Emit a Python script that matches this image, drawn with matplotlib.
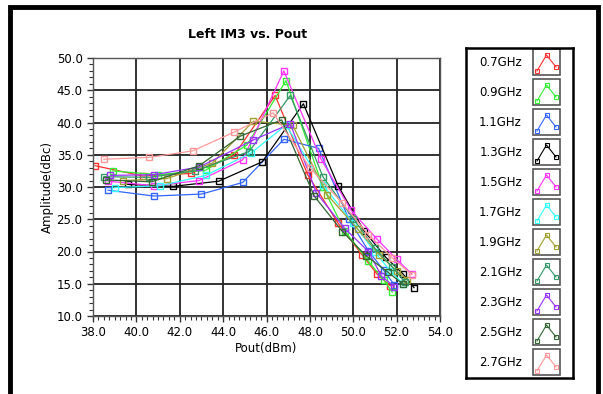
import matplotlib
matplotlib.use("Agg")
from matplotlib import pyplot as plt
from matplotlib.patches import Rectangle
from matplotlib.ticker import MultipleLocator, FormatStrFormatter

# frequencies and colours of the curves
labels = ['0.7GHz', '0.9GHz', '1.1GHz', '1.3GHz', '1.5GHz', '1.7GHz',
          '1.9GHz', '2.1GHz', '2.3GHz', '2.5GHz', '2.7GHz']
colors = ['#ff3030', '#33ee33', '#3366ff', '#000000', '#ff33ff', '#33ffff',
          '#a0a030', '#339966', '#9933ff', '#336633', '#ff9999']

# Pout (dBm) / Amplitude (dBc)
pout_07 = [38.1, 40.3, 42.5, 44.5, 46.4, 47.9, 49.3, 50.4, 51.1, 51.7]
im3_07 = [33.3, 31.7, 32.1, 34.9, 44.2, 31.9, 24.4, 19.5, 16.5, 14.7]
pout_09 = [38.9, 41.0, 43.2, 45.1, 46.9, 48.6, 49.6, 50.7, 51.4, 51.8]
im3_09 = [32.5, 31.9, 32.6, 36.5, 46.5, 30.0, 23.2, 18.5, 15.6, 13.7]
pout_11 = [38.7, 40.8, 43.0, 44.9, 46.8, 48.4, 49.8, 50.7, 51.4, 51.9]
im3_11 = [29.5, 28.6, 28.9, 30.7, 37.4, 36.0, 25.0, 20.1, 17.1, 14.8]
pout_13 = [39.6, 41.7, 43.8, 45.8, 47.7, 49.3, 50.5, 51.5, 52.3, 52.8]
im3_13 = [30.4, 30.1, 30.9, 33.9, 42.9, 30.2, 23.2, 19.1, 16.5, 14.4]
pout_15 = [38.7, 40.8, 42.9, 44.9, 46.8, 48.5, 49.9, 51.1, 52.0, 52.7]
im3_15 = [30.9, 30.2, 31.0, 34.2, 48.0, 34.4, 26.4, 21.9, 18.8, 16.5]
pout_17 = [39.0, 41.1, 43.2, 45.3, 46.9, 48.6, 50.0, 51.0, 51.7, 52.3]
im3_17 = [29.9, 30.2, 31.8, 35.3, 39.6, 30.3, 24.4, 19.9, 17.0, 15.0]
pout_19 = [39.4, 41.4, 43.5, 45.4, 47.2, 48.8, 50.2, 51.2, 52.0, 52.5]
im3_19 = [31.0, 31.3, 33.7, 40.2, 39.6, 28.8, 23.5, 19.5, 17.0, 15.6]
pout_21 = [38.5, 40.6, 42.7, 45.2, 47.1, 48.6, 50.0, 51.0, 51.8, 52.4]
im3_21 = [31.6, 31.5, 32.5, 35.5, 44.2, 31.6, 25.1, 20.5, 17.6, 15.2]
pout_23 = [38.8, 40.8, 42.9, 45.4, 47.1, 48.3, 49.6, 50.7, 51.3, 51.9]
im3_23 = [31.8, 31.9, 33.1, 37.3, 39.8, 29.1, 23.6, 20.0, 16.2, 14.5]
pout_25 = [38.6, 40.7, 42.9, 44.8, 46.7, 48.2, 49.5, 50.6, 51.6, 52.3]
im3_25 = [31.1, 30.8, 33.3, 37.9, 40.4, 28.6, 23.1, 19.3, 16.8, 14.9]
pout_27 = [38.5, 40.6, 42.6, 44.5, 46.3, 48.0, 49.5, 50.7, 51.8, 52.7]
im3_27 = [34.3, 34.6, 35.6, 38.5, 41.5, 33.0, 27.5, 22.6, 19.0, 16.4]

pouts = [pout_07, pout_09, pout_11, pout_13, pout_15, pout_17,
         pout_19, pout_21, pout_23, pout_25, pout_27]
im3s = [im3_07, im3_09, im3_11, im3_13, im3_15, im3_17,
        im3_19, im3_21, im3_23, im3_25, im3_27]

W, H = 603, 394
fig = plt.figure(figsize=(W / 100, H / 100), dpi=100)
plt.rcParams['font.family'] = 'DejaVu Sans'

# outer frame
fig.patches.append(Rectangle((10 / W, -0.05), 588 / W, 1 - 7 / H + 0.05,
                             transform=fig.transFigure, fill=False,
                             edgecolor='black', linewidth=3.5))

ax = fig.add_axes([93 / W, 1 - 316 / H, (440 - 93) / W, (316 - 58) / H])
for x, y, c in zip(pouts, im3s, colors):
    ax.plot(x, y, color=c, linewidth=0.9, marker='s', markersize=4,
            markerfacecolor='none', markeredgewidth=1.0)

ax.set_xlim(38, 54)
ax.set_ylim(10, 50)
ax.xaxis.set_major_locator(MultipleLocator(2))
ax.xaxis.set_minor_locator(MultipleLocator(0.25))
ax.yaxis.set_major_locator(MultipleLocator(5))
ax.yaxis.set_minor_locator(MultipleLocator(1))
ax.xaxis.set_major_formatter(FormatStrFormatter('%.1f'))
ax.yaxis.set_major_formatter(FormatStrFormatter('%.1f'))
ax.tick_params(which='both', direction='out', labelsize=8.5, color='#333333')
ax.tick_params(which='major', length=4, width=1)
ax.tick_params(which='minor', length=3, width=0.8)
ax.grid(True, which='major', color='#222222', linewidth=1.3)
ax.set_axisbelow(True)
for s in ax.spines.values():
    s.set_color('#555555')
    s.set_linewidth(1)
ax.set_xlabel('Pout(dBm)', fontsize=8.5, labelpad=2)
ax.set_ylabel('Amplitude(dBc)', fontsize=8.5, labelpad=2)
fig.text(248 / W, 1 - 34 / H, 'Left IM3 vs. Pout', ha='center', va='center',
         fontsize=9, fontweight='bold')

# legend box drawn by hand
lg = fig.add_axes([466 / W, 1 - 378 / H, (573 - 466) / W, (378 - 48) / H])
lg.set_xlim(0, 107)
lg.set_ylim(len(labels) * 30 + 0.5, 0.5)
lg.set_xticks([])
lg.set_yticks([])
for s in lg.spines.values():
    s.set_linewidth(1.8)
for i, (lab, c) in enumerate(zip(labels, colors)):
    yc = 14.5 + i * 30
    lg.text(56, yc, lab, ha='right', va='center', fontsize=8.5)
    lg.add_patch(Rectangle((67, yc - 13), 27, 26, fill=False,
                           edgecolor='#555555', linewidth=1.2))
    lg.plot([71, 80.5, 90], [yc + 9, yc - 7, yc + 5], color=c, linewidth=0.8,
            marker='s', markersize=3, markerfacecolor='none',
            markeredgewidth=0.8)

fig.savefig('out.png', dpi=100)
